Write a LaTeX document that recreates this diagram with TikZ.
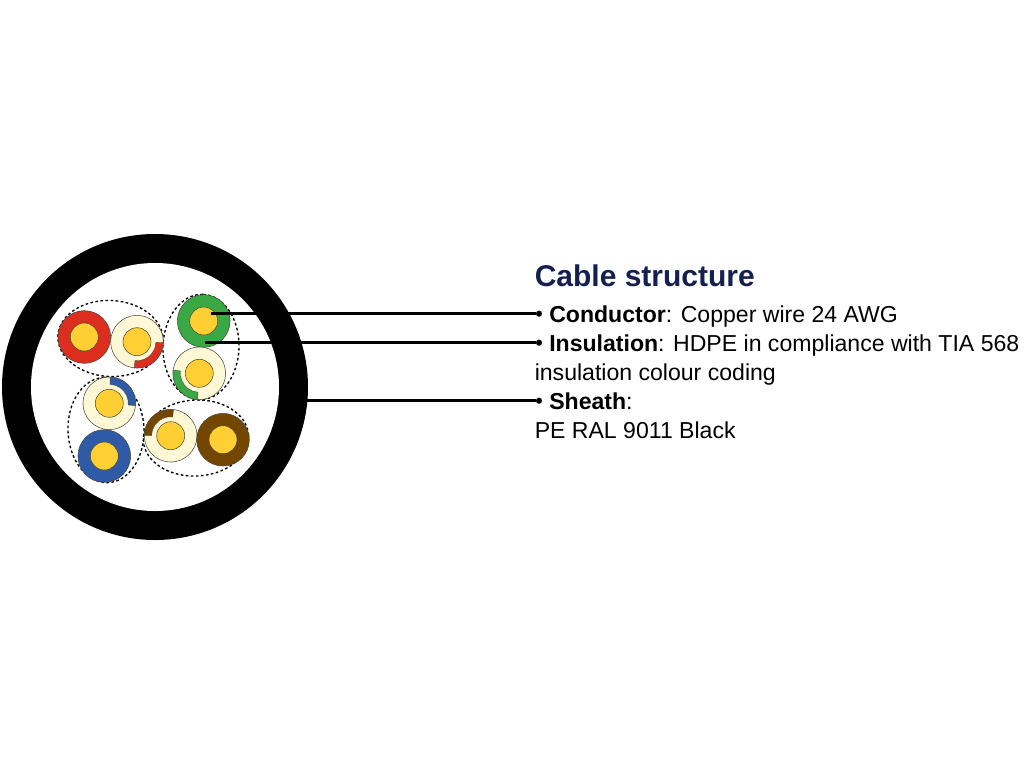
\documentclass[tikz,border=0pt]{standalone}
\usepackage{fontspec}
\setmainfont{Liberation Sans}
\usetikzlibrary{shapes.geometric}

\definecolor{cablered}{HTML}{DC2D1E}
\definecolor{cablegreen}{HTML}{3AA845}
\definecolor{cableblue}{HTML}{2F5AA8}
\definecolor{cablebrown}{HTML}{744700}
\definecolor{cablecream}{HTML}{FFF8D7}
\definecolor{cablecore}{HTML}{FFCF33}
\definecolor{titlenavy}{HTML}{14204F}
\definecolor{edgegrey}{HTML}{4A4A3A}

\tikzset{
  insulated/.style={circle,draw=edgegrey,line width=0.4pt,minimum size=39.5pt},
  core/.style={circle,draw=edgegrey,line width=0.4pt,fill=cablecore,minimum size=21pt},
  pairline/.style={ellipse,draw,line width=1pt,dash pattern=on 2pt off 1.8pt,minimum width=79pt,minimum height=57pt},
  colourmark/.style={draw=edgegrey,line width=0.3pt},
  wire/.style={line width=1.9pt},
  wiredot/.style={circle,fill=black,minimum size=4.6pt},
  heading/.style={anchor=base west,text=titlenavy,font=\fontsize{22.5}{26}\selectfont\bfseries},
  bodyline/.style={anchor=base west,font=\fontsize{17.3}{21}\selectfont}
}

\begin{document}
\begin{tikzpicture}
    [x=0.75pt,y=-0.75pt,inner sep=0pt]

    \useasboundingbox (0,0) rectangle (1024,768);

    % sheath:
    \node (sheath) at (155,387) [circle,fill=black,minimum size=229.5pt] {};
    \node (inside) at (155,387) [circle,fill=white,minimum size=186pt] {};

    % twisted pairs:
    \node (pairred) at (110.5,338.5) [pairline,rotate=-3] {};
    \node (pairgreen) at (201,347) [pairline,rotate=88] {};
    \node (pairblue) at (106,430) [pairline,rotate=92] {};
    \node (pairbrown) at (196,438) [pairline,rotate=3] {};

    % red pair:
    \node (insred) at (84.3,337) [insulated,fill=cablered] {};
    \node (corered) at (84.3,337) [core] {};
    \node (insredw) at (137,341.7) [insulated,fill=cablecream] {};
    \draw [colourmark,fill=cablered,shift={(insredw.center)}]
      (2:26.3) arc [start angle=2,end angle=96,radius=26.3] -- (96:19) arc [start angle=96,end angle=2,radius=19] -- cycle;
    \node (coreredw) at (137,341.7) [core] {};

    % green pair:
    \node (insgreen) at (203.7,321) [insulated,fill=cablegreen] {};
    \node (coregreen) at (203.7,321) [core] {};
    \node (insgreenw) at (199.3,373.3) [insulated,fill=cablecream] {};
    \draw [colourmark,fill=cablegreen,shift={(insgreenw.center)}]
      (94:26.3) arc [start angle=94,end angle=187,radius=26.3] -- (187:19) arc [start angle=187,end angle=94,radius=19] -- cycle;
    \node (coregreenw) at (199.3,373.3) [core] {};

    % blue pair:
    \node (insbluew) at (109.3,403.3) [insulated,fill=cablecream] {};
    \draw [colourmark,fill=cableblue,shift={(insbluew.center)}]
      (-88:26.3) arc [start angle=-88,end angle=5,radius=26.3] -- (5:19) arc [start angle=5,end angle=-88,radius=19] -- cycle;
    \node (corebluew) at (109.3,403.3) [core] {};
    \node (insblue) at (104.3,456) [insulated,fill=cableblue] {};
    \node (coreblue) at (104.3,456) [core] {};

    % brown pair:
    \node (insbrownw) at (170.7,435.7) [insulated,fill=cablecream] {};
    \draw [colourmark,fill=cablebrown,shift={(insbrownw.center)}]
      (180:26.3) arc [start angle=180,end angle=276,radius=26.3] -- (276:19) arc [start angle=276,end angle=180,radius=19] -- cycle;
    \node (corebrownw) at (170.7,435.7) [core] {};
    \node (insbrown) at (223,439.7) [insulated,fill=cablebrown] {};
    \node (corebrown) at (223,439.7) [core] {};

    % wire ends:
    \coordinate (conductorend) at (211,313.7);
    \node (conductordot) at (539,313.7) [wiredot] {};
    \coordinate (insulationend) at (205,342.7);
    \node (insulationdot) at (539,342.7) [wiredot] {};
    \coordinate (sheathend) at (300,400.7);
    \node (sheathdot) at (539,400.7) [wiredot] {};

    % connect:
    \draw [wire] (conductorend) to (conductordot);
    \draw [wire] (insulationend) to (insulationdot);
    \draw [wire] (sheathend) to (sheathdot);

    % text:
    \node (title) at (534.5,286) [heading] {Cable structure};
    \node (conductor) at (549,322) [bodyline] {\textbf{Conductor}: Copper wire 24 AWG};
    \node (insulation) at (549,351) [bodyline] {\textbf{Insulation}: HDPE in compliance with TIA 568};
    \node (coding) at (534.5,380) [bodyline] {insulation colour coding};
    \node (sheathlabel) at (549,409) [bodyline] {\textbf{Sheath}:};
    \node (sheathtype) at (534.5,438) [bodyline] {PE RAL 9011 Black};

\end{tikzpicture}
\end{document}
